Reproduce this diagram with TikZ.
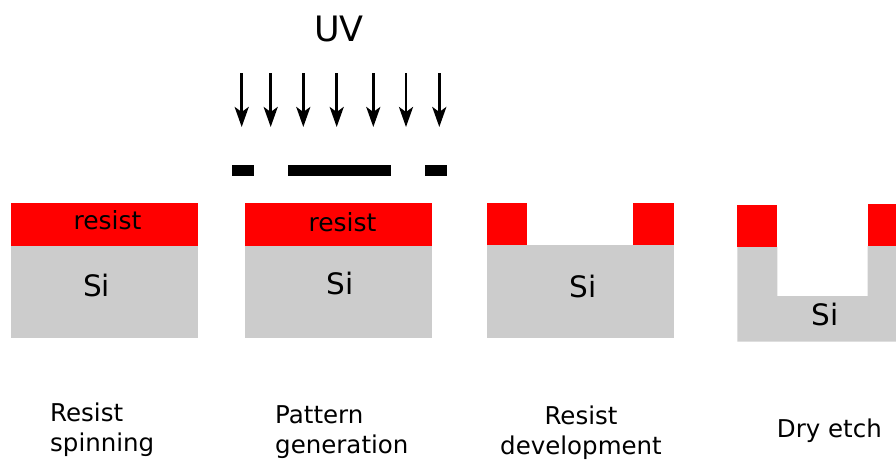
\documentclass[tikz,border=0pt]{standalone}
\usepackage{fontspec}
\setmainfont{DejaVu Sans}
\usetikzlibrary{arrows.meta}
\definecolor{resistred}{RGB}{255,0,0}
\definecolor{silicon}{RGB}{204,204,204}
\definecolor{maskblack}{RGB}{0,0,0}
\tikzset{
  % Resist layer
  resist/.style={
    fill=resistred
  },
  % Silicon substrate
  substrate/.style={
    fill=silicon
  },
  % Mask bar
  maskbar/.style={
    fill=maskblack
  },
  % UV ray
  uvray/.style={
    -{Stealth[length=20pt, width=14pt, inset=5pt]}, line width=2.8pt, color=maskblack
  },
  % Text inside the layers
  layertext/.style={
    font=\fontsize{25}{30}\selectfont, anchor=base, inner sep=0pt
  },
  sitext/.style={
    font=\fontsize{29.5}{34}\selectfont, anchor=base, inner sep=0pt
  },
  % Step caption
  caption/.style={
    font=\fontsize{24.5}{30}\selectfont, inner sep=0pt
  },
}
\begin{document}
\begin{tikzpicture}[x=1pt, y=-1pt]
  \useasboundingbox (0,0) rectangle (896,459);

  % UV source and rays
  \node[font=\fontsize{35}{40}\selectfont, anchor=base, inner sep=0pt] (uv) at (339,41) {UV};
  \foreach \x in {241.7, 270.7, 303.3, 336.7, 373.3, 406, 439.3}
    \draw[uvray] (\x,73) -- (\x,127);

  % Mask
  \fill[maskbar] (232.3,165) rectangle (254.3,176);
  \fill[maskbar] (288.3,165) rectangle (391,176);
  \fill[maskbar] (425,165) rectangle (447.3,176);

  % Resist spinning
  \fill[resist] (11,203.3) rectangle (198,245.7);
  \fill[substrate] (11,245.7) rectangle (198,337.5);
  \node[layertext] (res1) at (107.5,229.3) {resist};
  \node[sitext] (si1) at (96.7,296) {Si};

  % Pattern generation
  \fill[resist] (245,203.3) rectangle (431.7,245.7);
  \fill[substrate] (245,245.7) rectangle (431.7,337.7);
  \node[layertext] (res2) at (342.5,231.7) {resist};
  \node[sitext] (si2) at (340,294.3) {Si};

  % Resist development
  \fill[resist] (487.3,203.3) rectangle (527.3,245.3);
  \fill[resist] (633,203.3) rectangle (674,245.3);
  \fill[substrate] (487.3,245.3) rectangle (674,337.7);
  \node[sitext] (si3) at (583,297.7) {Si};

  % Dry etch
  \fill[resist] (737.3,205) rectangle (777.3,247);
  \fill[resist] (867.7,204) rectangle (896,246);
  \fill[substrate] (737.3,247) -- (777.3,247) -- (777.3,296) -- (867.7,296)
    -- (867.7,246) -- (896,246) -- (896,341.7) -- (737.3,341.7) -- cycle;
  \node[sitext] (si4) at (825,325) {Si};

  % Captions
  \node[caption, align=left, anchor=north west] (cap1) at (50,402.4) {Resist\\spinning};
  \node[caption, align=left, anchor=north west] (cap2) at (275,405.4) {Pattern\\generation};
  \node[caption, align=center, anchor=north] (cap3) at (581,405.7) {Resist\\development};
  \node[caption, anchor=base west] (cap4) at (776.7,437.3) {Dry etch};
\end{tikzpicture}
\end{document}
